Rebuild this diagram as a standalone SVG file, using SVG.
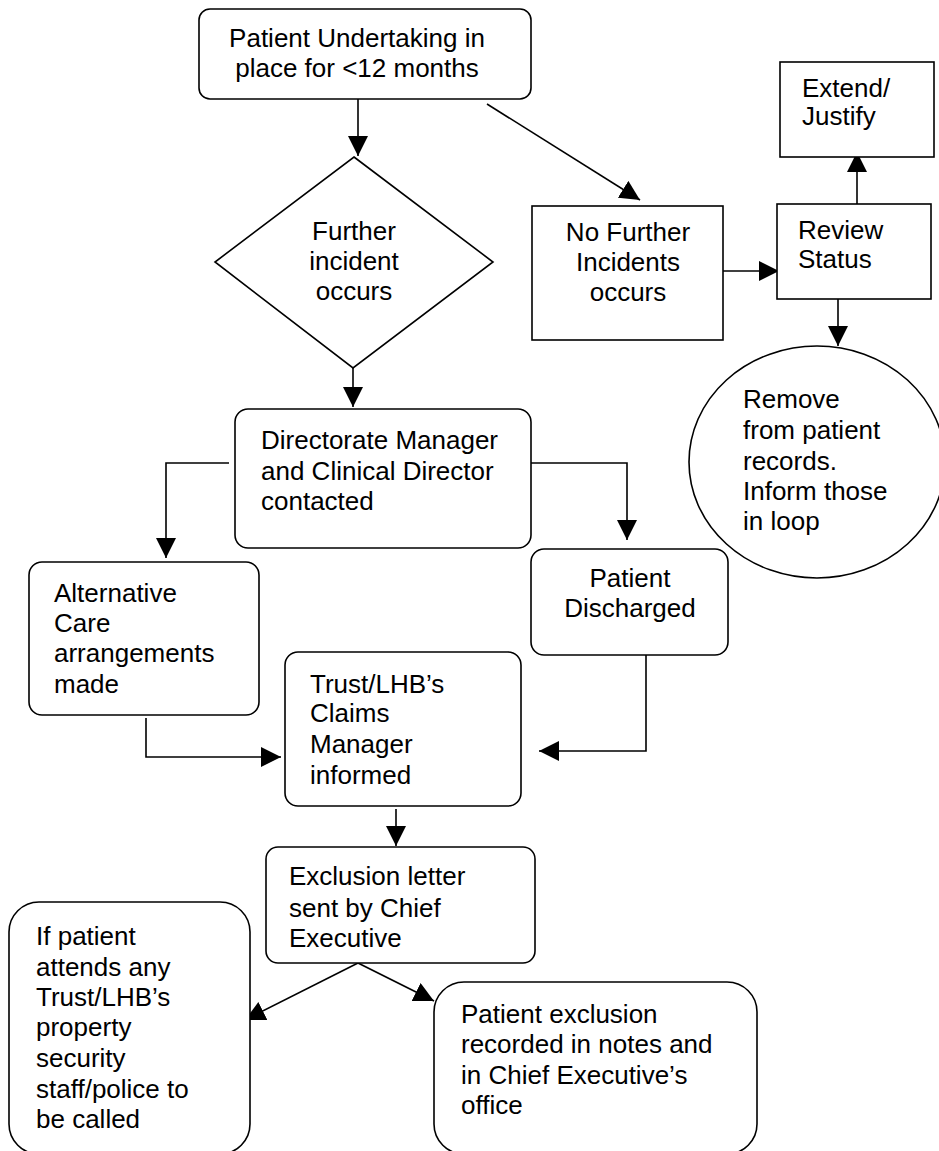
<svg xmlns="http://www.w3.org/2000/svg" width="939" height="1151" viewBox="0 0 939 1151">
<style>
.s{fill:#fff;stroke:#000;stroke-width:1.6}
.t{font-family:"Liberation Sans",Arial,sans-serif;font-size:26px;fill:#000}
.m{text-anchor:middle}
.c{fill:none;stroke:#000;stroke-width:1.6;marker-end:url(#ah)}
</style>
<defs>
<marker id="ah" markerUnits="userSpaceOnUse" markerWidth="20" markerHeight="20" refX="20" refY="10" orient="auto" viewBox="0 0 20 20">
<path d="M0,0 L20,10 L0,20 Z" fill="#000"/>
</marker>
</defs>
<rect width="939" height="1151" fill="#fff"/>
<g id="connectors">
<path class="c" d="M358,99 V156"/>
<path class="c" d="M353,368 V407"/>
<path class="c" d="M487,104 L640,200"/>
<path class="c" d="M723,271 H779"/>
<path class="c" d="M857,206 V152"/>
<path class="c" d="M838,299 V346"/>
<path class="c" d="M229,463 H166 V558"/>
<path class="c" d="M531,463 H627 V540"/>
<path class="c" d="M146,718 V757 H281"/>
<path class="c" d="M646,655 V751 H539"/>
<path class="c" d="M396,809 V846"/>
<path class="c" d="M358,963 L245,1020"/>
<path class="c" d="M358,963 L434,1001"/>
</g>
<g id="n1">
<rect class="s" x="199" y="9" width="332" height="90" rx="11"/>
<text class="t m" x="357" y="47">Patient Undertaking in</text>
<text class="t m" x="357" y="77">place for &lt;12 months</text>
</g>
<g id="n2">
<polygon class="s" points="354,157 493,262 353,368 215,262"/>
<text class="t m" x="354" y="240">Further</text>
<text class="t m" x="354" y="270">incident</text>
<text class="t m" x="354" y="300">occurs</text>
</g>
<g id="n3">
<rect class="s" x="532" y="206" width="191" height="134"/>
<text class="t m" x="628" y="241">No Further</text>
<text class="t m" x="628" y="271">Incidents</text>
<text class="t m" x="628" y="301">occurs</text>
</g>
<g id="n4">
<rect class="s" x="777" y="204" width="154" height="95"/>
<text class="t" x="798" y="239">Review</text>
<text class="t" x="798" y="268">Status</text>
</g>
<g id="n5">
<rect class="s" x="780" y="62" width="154" height="95"/>
<text class="t" x="802" y="97">Extend/</text>
<text class="t" x="802" y="125">Justify</text>
</g>
<g id="n6">
<ellipse class="s" cx="817" cy="462" rx="128" ry="116"/>
<text class="t" x="743" y="408">Remove</text>
<text class="t" x="743" y="439">from patient</text>
<text class="t" x="743" y="470">records.</text>
<text class="t" x="743" y="500">Inform those</text>
<text class="t" x="743" y="530">in loop</text>
</g>
<g id="n7">
<rect class="s" x="235" y="409" width="296" height="139" rx="13"/>
<text class="t" x="261" y="449">Directorate Manager</text>
<text class="t" x="261" y="480">and Clinical Director</text>
<text class="t" x="261" y="510">contacted</text>
</g>
<g id="n8">
<rect class="s" x="29" y="562" width="230" height="153" rx="13"/>
<text class="t" x="54" y="602">Alternative</text>
<text class="t" x="54" y="632">Care</text>
<text class="t" x="54" y="662">arrangements</text>
<text class="t" x="54" y="693">made</text>
</g>
<g id="n9">
<rect class="s" x="531" y="549" width="197" height="106" rx="13"/>
<text class="t m" x="630" y="587">Patient</text>
<text class="t m" x="630" y="617">Discharged</text>
</g>
<g id="n10">
<rect class="s" x="285" y="652" width="236" height="154" rx="13"/>
<text class="t" x="310" y="693">Trust/LHB’s</text>
<text class="t" x="310" y="722">Claims</text>
<text class="t" x="310" y="753">Manager</text>
<text class="t" x="310" y="784">informed</text>
</g>
<g id="n11">
<rect class="s" x="266" y="847" width="269" height="116" rx="12"/>
<text class="t" x="289" y="885">Exclusion letter</text>
<text class="t" x="289" y="917">sent by Chief</text>
<text class="t" x="289" y="947">Executive</text>
</g>
<g id="n12">
<rect class="s" x="9" y="902" width="241" height="252" rx="30"/>
<text class="t" x="36" y="945">If patient</text>
<text class="t" x="36" y="976">attends any</text>
<text class="t" x="36" y="1006">Trust/LHB’s</text>
<text class="t" x="36" y="1036">property</text>
<text class="t" x="36" y="1067">security</text>
<text class="t" x="36" y="1098">staff/police to</text>
<text class="t" x="36" y="1128">be called</text>
</g>
<g id="n13">
<rect class="s" x="434" y="982" width="323" height="172" rx="30"/>
<text class="t" x="461" y="1023">Patient exclusion</text>
<text class="t" x="461" y="1053">recorded in notes and</text>
<text class="t" x="461" y="1084">in Chief Executive’s</text>
<text class="t" x="461" y="1114">office</text>
</g>
</svg>
